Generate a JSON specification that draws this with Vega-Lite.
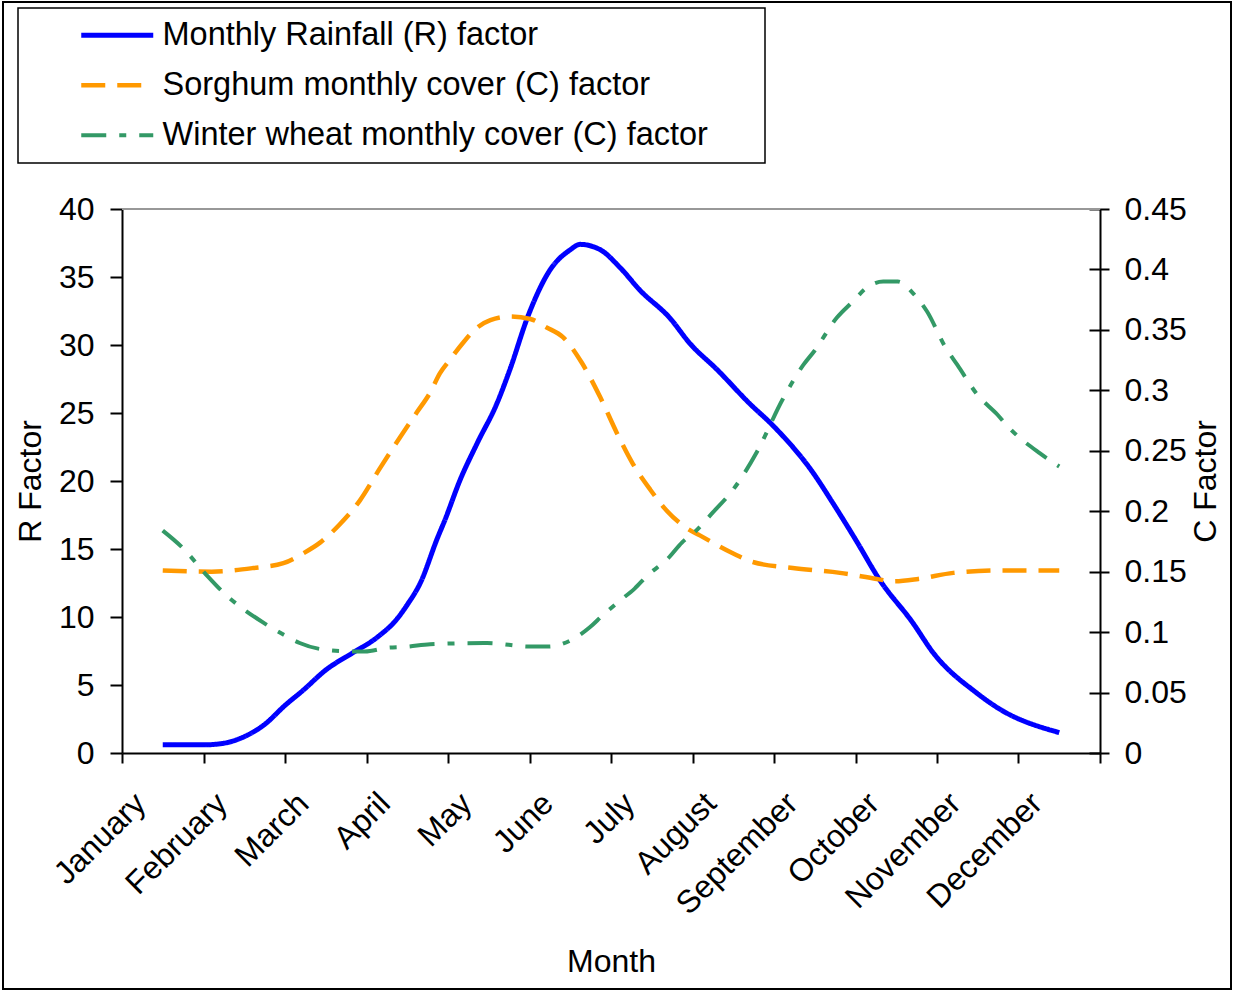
{
  "$schema": "https://vega.github.io/schema/vega-lite/v6.json",
  "width": 1228,
  "height": 987,
  "autosize": {"type": "none"},
  "padding": {"left": 3, "top": 2, "right": 2, "bottom": 2},
  "background": "white",
  "config": {
    "font": "Liberation Sans",
    "view": {"stroke": "black", "strokeWidth": 2},
    "axis": {
      "labelFont": "Liberation Sans",
      "titleFont": "Liberation Sans",
      "labelFontSize": 32,
      "titleFontSize": 32,
      "titleFontWeight": "normal",
      "labelColor": "black",
      "titleColor": "black",
      "domainColor": "black",
      "tickColor": "black",
      "domainWidth": 2,
      "tickWidth": 2,
      "grid": false
    },
    "legend": {
      "labelFont": "Liberation Sans",
      "labelFontSize": 32.5,
      "labelColor": "black",
      "strokeWidth": 1.5
    }
  },
  "data": {
    "values": [
      {"series": "Monthly Rainfall (R) factor", "m": 1, "v": 0.6},
      {"series": "Monthly Rainfall (R) factor", "m": 1.5, "v": 0.6},
      {"series": "Monthly Rainfall (R) factor", "m": 1.73, "v": 0.7},
      {"series": "Monthly Rainfall (R) factor", "m": 2, "v": 1.2},
      {"series": "Monthly Rainfall (R) factor", "m": 2.25, "v": 2.1},
      {"series": "Monthly Rainfall (R) factor", "m": 2.5, "v": 3.5},
      {"series": "Monthly Rainfall (R) factor", "m": 2.72, "v": 4.6},
      {"series": "Monthly Rainfall (R) factor", "m": 3, "v": 6.1},
      {"series": "Monthly Rainfall (R) factor", "m": 3.34, "v": 7.4},
      {"series": "Monthly Rainfall (R) factor", "m": 3.63, "v": 8.5},
      {"series": "Monthly Rainfall (R) factor", "m": 3.88, "v": 9.9},
      {"series": "Monthly Rainfall (R) factor", "m": 4, "v": 10.9},
      {"series": "Monthly Rainfall (R) factor", "m": 4.16, "v": 12.5},
      {"series": "Monthly Rainfall (R) factor", "m": 4.37, "v": 15.8},
      {"series": "Monthly Rainfall (R) factor", "m": 4.46, "v": 17.1},
      {"series": "Monthly Rainfall (R) factor", "m": 4.65, "v": 20.1},
      {"series": "Monthly Rainfall (R) factor", "m": 4.86, "v": 22.8},
      {"series": "Monthly Rainfall (R) factor", "m": 5.1, "v": 25.7},
      {"series": "Monthly Rainfall (R) factor", "m": 5.26, "v": 28.2},
      {"series": "Monthly Rainfall (R) factor", "m": 5.48, "v": 32.1},
      {"series": "Monthly Rainfall (R) factor", "m": 5.75, "v": 35.5},
      {"series": "Monthly Rainfall (R) factor", "m": 6, "v": 37.0},
      {"series": "Monthly Rainfall (R) factor", "m": 6.12, "v": 37.4},
      {"series": "Monthly Rainfall (R) factor", "m": 6.37, "v": 37.0},
      {"series": "Monthly Rainfall (R) factor", "m": 6.61, "v": 35.7},
      {"series": "Monthly Rainfall (R) factor", "m": 6.86, "v": 34.0},
      {"series": "Monthly Rainfall (R) factor", "m": 7.22, "v": 32.0},
      {"series": "Monthly Rainfall (R) factor", "m": 7.47, "v": 30.1},
      {"series": "Monthly Rainfall (R) factor", "m": 7.8, "v": 28.2},
      {"series": "Monthly Rainfall (R) factor", "m": 8.2, "v": 25.7},
      {"series": "Monthly Rainfall (R) factor", "m": 8.5, "v": 24.0},
      {"series": "Monthly Rainfall (R) factor", "m": 8.98, "v": 20.6},
      {"series": "Monthly Rainfall (R) factor", "m": 9.22, "v": 18.4},
      {"series": "Monthly Rainfall (R) factor", "m": 9.49, "v": 15.8},
      {"series": "Monthly Rainfall (R) factor", "m": 9.8, "v": 12.7},
      {"series": "Monthly Rainfall (R) factor", "m": 10.2, "v": 9.6},
      {"series": "Monthly Rainfall (R) factor", "m": 10.45, "v": 7.4},
      {"series": "Monthly Rainfall (R) factor", "m": 10.99, "v": 4.4},
      {"series": "Monthly Rainfall (R) factor", "m": 11.25, "v": 3.3},
      {"series": "Monthly Rainfall (R) factor", "m": 12, "v": 1.5},

      {"series": "Sorghum monthly cover (C) factor", "m": 1, "v": 0.151},
      {"series": "Sorghum monthly cover (C) factor", "m": 1.6, "v": 0.150},
      {"series": "Sorghum monthly cover (C) factor", "m": 2.11, "v": 0.153},
      {"series": "Sorghum monthly cover (C) factor", "m": 2.48, "v": 0.157},
      {"series": "Sorghum monthly cover (C) factor", "m": 2.72, "v": 0.165},
      {"series": "Sorghum monthly cover (C) factor", "m": 2.93, "v": 0.174},
      {"series": "Sorghum monthly cover (C) factor", "m": 3.17, "v": 0.189},
      {"series": "Sorghum monthly cover (C) factor", "m": 3.42, "v": 0.209},
      {"series": "Sorghum monthly cover (C) factor", "m": 3.66, "v": 0.235},
      {"series": "Sorghum monthly cover (C) factor", "m": 3.91, "v": 0.261},
      {"series": "Sorghum monthly cover (C) factor", "m": 4.12, "v": 0.282},
      {"series": "Sorghum monthly cover (C) factor", "m": 4.28, "v": 0.298},
      {"series": "Sorghum monthly cover (C) factor", "m": 4.4, "v": 0.314},
      {"series": "Sorghum monthly cover (C) factor", "m": 4.52, "v": 0.325},
      {"series": "Sorghum monthly cover (C) factor", "m": 4.68, "v": 0.339},
      {"series": "Sorghum monthly cover (C) factor", "m": 4.86, "v": 0.352},
      {"series": "Sorghum monthly cover (C) factor", "m": 5.02, "v": 0.358},
      {"series": "Sorghum monthly cover (C) factor", "m": 5.26, "v": 0.361},
      {"series": "Sorghum monthly cover (C) factor", "m": 5.51, "v": 0.359},
      {"series": "Sorghum monthly cover (C) factor", "m": 5.71, "v": 0.352},
      {"series": "Sorghum monthly cover (C) factor", "m": 5.91, "v": 0.344},
      {"series": "Sorghum monthly cover (C) factor", "m": 6.14, "v": 0.323},
      {"series": "Sorghum monthly cover (C) factor", "m": 6.37, "v": 0.294},
      {"series": "Sorghum monthly cover (C) factor", "m": 6.57, "v": 0.265},
      {"series": "Sorghum monthly cover (C) factor", "m": 6.77, "v": 0.239},
      {"series": "Sorghum monthly cover (C) factor", "m": 6.98, "v": 0.218},
      {"series": "Sorghum monthly cover (C) factor", "m": 7.19, "v": 0.200},
      {"series": "Sorghum monthly cover (C) factor", "m": 7.43, "v": 0.186},
      {"series": "Sorghum monthly cover (C) factor", "m": 7.59, "v": 0.180},
      {"series": "Sorghum monthly cover (C) factor", "m": 8, "v": 0.165},
      {"series": "Sorghum monthly cover (C) factor", "m": 8.24, "v": 0.158},
      {"series": "Sorghum monthly cover (C) factor", "m": 8.73, "v": 0.153},
      {"series": "Sorghum monthly cover (C) factor", "m": 9.31, "v": 0.149},
      {"series": "Sorghum monthly cover (C) factor", "m": 9.76, "v": 0.144},
      {"series": "Sorghum monthly cover (C) factor", "m": 9.96, "v": 0.142},
      {"series": "Sorghum monthly cover (C) factor", "m": 10.27, "v": 0.144},
      {"series": "Sorghum monthly cover (C) factor", "m": 10.7, "v": 0.149},
      {"series": "Sorghum monthly cover (C) factor", "m": 11.27, "v": 0.151},
      {"series": "Sorghum monthly cover (C) factor", "m": 12, "v": 0.151},

      {"series": "Winter wheat monthly cover (C) factor", "m": 1, "v": 0.184},
      {"series": "Winter wheat monthly cover (C) factor", "m": 1.24, "v": 0.170},
      {"series": "Winter wheat monthly cover (C) factor", "m": 1.54, "v": 0.147},
      {"series": "Winter wheat monthly cover (C) factor", "m": 1.74, "v": 0.133},
      {"series": "Winter wheat monthly cover (C) factor", "m": 2.23, "v": 0.108},
      {"series": "Winter wheat monthly cover (C) factor", "m": 2.48, "v": 0.098},
      {"series": "Winter wheat monthly cover (C) factor", "m": 2.68, "v": 0.091},
      {"series": "Winter wheat monthly cover (C) factor", "m": 2.93, "v": 0.086},
      {"series": "Winter wheat monthly cover (C) factor", "m": 3.3, "v": 0.084},
      {"series": "Winter wheat monthly cover (C) factor", "m": 3.48, "v": 0.084},
      {"series": "Winter wheat monthly cover (C) factor", "m": 3.75, "v": 0.087},
      {"series": "Winter wheat monthly cover (C) factor", "m": 4, "v": 0.088},
      {"series": "Winter wheat monthly cover (C) factor", "m": 4.28, "v": 0.090},
      {"series": "Winter wheat monthly cover (C) factor", "m": 4.98, "v": 0.091},
      {"series": "Winter wheat monthly cover (C) factor", "m": 5.51, "v": 0.088},
      {"series": "Winter wheat monthly cover (C) factor", "m": 5.73, "v": 0.088},
      {"series": "Winter wheat monthly cover (C) factor", "m": 6, "v": 0.093},
      {"series": "Winter wheat monthly cover (C) factor", "m": 6.24, "v": 0.104},
      {"series": "Winter wheat monthly cover (C) factor", "m": 6.4, "v": 0.114},
      {"series": "Winter wheat monthly cover (C) factor", "m": 6.59, "v": 0.125},
      {"series": "Winter wheat monthly cover (C) factor", "m": 6.79, "v": 0.136},
      {"series": "Winter wheat monthly cover (C) factor", "m": 6.95, "v": 0.147},
      {"series": "Winter wheat monthly cover (C) factor", "m": 7.2, "v": 0.161},
      {"series": "Winter wheat monthly cover (C) factor", "m": 7.37, "v": 0.174},
      {"series": "Winter wheat monthly cover (C) factor", "m": 7.53, "v": 0.183},
      {"series": "Winter wheat monthly cover (C) factor", "m": 7.75, "v": 0.199},
      {"series": "Winter wheat monthly cover (C) factor", "m": 8, "v": 0.218},
      {"series": "Winter wheat monthly cover (C) factor", "m": 8.29, "v": 0.249},
      {"series": "Winter wheat monthly cover (C) factor", "m": 8.61, "v": 0.293},
      {"series": "Winter wheat monthly cover (C) factor", "m": 8.86, "v": 0.321},
      {"series": "Winter wheat monthly cover (C) factor", "m": 9, "v": 0.333},
      {"series": "Winter wheat monthly cover (C) factor", "m": 9.27, "v": 0.360},
      {"series": "Winter wheat monthly cover (C) factor", "m": 9.46, "v": 0.373},
      {"series": "Winter wheat monthly cover (C) factor", "m": 9.64, "v": 0.385},
      {"series": "Winter wheat monthly cover (C) factor", "m": 9.84, "v": 0.390},
      {"series": "Winter wheat monthly cover (C) factor", "m": 10.02, "v": 0.390},
      {"series": "Winter wheat monthly cover (C) factor", "m": 10.21, "v": 0.380},
      {"series": "Winter wheat monthly cover (C) factor", "m": 10.38, "v": 0.365},
      {"series": "Winter wheat monthly cover (C) factor", "m": 10.6, "v": 0.336},
      {"series": "Winter wheat monthly cover (C) factor", "m": 10.75, "v": 0.321},
      {"series": "Winter wheat monthly cover (C) factor", "m": 11, "v": 0.296},
      {"series": "Winter wheat monthly cover (C) factor", "m": 11.24, "v": 0.280},
      {"series": "Winter wheat monthly cover (C) factor", "m": 11.37, "v": 0.270},
      {"series": "Winter wheat monthly cover (C) factor", "m": 11.76, "v": 0.248},
      {"series": "Winter wheat monthly cover (C) factor", "m": 12, "v": 0.237}
    ]
  },
  "layer": [
    {
      "description": "Grey frame line along the top of the plot area",
      "mark": {"type": "rule", "color": "#999999", "strokeWidth": 1.5},
      "encoding": {
        "x": {"datum": 0.5, "type": "quantitative", "scale": {"domain": [0.5, 12.5], "range": [119, 1097], "nice": false, "zero": false}},
        "x2": {"datum": 12.5},
        "y": {"datum": 40, "type": "quantitative", "scale": {"domain": [0, 40], "range": [751, 207], "nice": false}, "axis": null}
      }
    },
    {
      "transform": [{"filter": "datum.series === 'Monthly Rainfall (R) factor'"}],
      "mark": {"type": "line", "interpolate": "monotone", "strokeCap": "butt"},
      "encoding": {
        "x": {
          "field": "m", "type": "quantitative",
          "scale": {"domain": [0.5, 12.5], "range": [119, 1097], "nice": false, "zero": false},
          "axis": {
            "orient": "bottom", "offset": -236,
            "values": [0.5, 1.5, 2.5, 3.5, 4.5, 5.5, 6.5, 7.5, 8.5, 9.5, 10.5, 11.5, 12.5],
            "labelExpr": "['January','February','March','April','May','June','July','August','September','October','November','December',''][round(datum.value - 0.5)]",
            "labelAngle": -45, "labelAlign": "right", "labelBaseline": "middle",
            "labelOffset": 18, "labelPadding": 35, "labelOverlap": false, "labelBound": false, "labelFlush": false,
            "tickSize": 10, "title": "Month", "titlePadding": 27
          }
        },
        "y": {
          "field": "v", "type": "quantitative",
          "scale": {"domain": [0, 40], "range": [751, 207], "nice": false},
          "axis": {
            "orient": "left", "offset": -119, "values": [0, 5, 10, 15, 20, 25, 30, 35, 40],
            "tickSize": 12, "labelPadding": 16, "title": "R Factor", "titlePadding": 11
          }
        },
        "color": {
          "field": "series", "type": "nominal",
          "scale": {
            "domain": ["Monthly Rainfall (R) factor", "Sorghum monthly cover (C) factor", "Winter wheat monthly cover (C) factor"],
            "range": ["#0000ff", "#ff9900", "#339966"]
          },
          "legend": {
            "title": null, "orient": "none", "legendX": 15, "legendY": 6,
            "symbolType": "M-4,0L4,0", "symbolSize": 324, "symbolOffset": 72,
            "labelOffset": 29, "rowPadding": 17, "padding": 11,
            "labelExpr": "datum.label + '\u00a0\u00a0\u00a0\u00a0\u00a0\u200b'",
            "strokeColor": "black", "fillColor": "white", "labelLimit": 1000
          }
        },
        "strokeDash": {
          "field": "series", "type": "nominal",
          "scale": {
            "domain": ["Monthly Rainfall (R) factor", "Sorghum monthly cover (C) factor", "Winter wheat monthly cover (C) factor"],
            "range": [[1, 0], [24, 12], [25, 13, 7, 13]]
          }
        },
        "strokeWidth": {
          "field": "series", "type": "nominal",
          "scale": {
            "domain": ["Monthly Rainfall (R) factor", "Sorghum monthly cover (C) factor", "Winter wheat monthly cover (C) factor"],
            "range": [5, 4, 3.5]
          }
        }
      }
    },
    {
      "transform": [{"filter": "datum.series === 'Sorghum monthly cover (C) factor'"}],
      "mark": {"type": "line", "interpolate": "monotone", "strokeCap": "butt"},
      "encoding": {
        "x": {"field": "m", "type": "quantitative"},
        "y": {
          "field": "v", "type": "quantitative",
          "scale": {"domain": [0, 0.45], "range": [751, 207], "nice": false},
          "axis": {
            "orient": "right", "offset": -131,
            "values": [0, 0.05, 0.1, 0.15, 0.2, 0.25, 0.3, 0.35, 0.4, 0.45],
            "labelExpr": "format(datum.value, '.2~f')",
            "tickSize": 9, "labelPadding": 15, "title": "C Factor", "titleAngle": -90, "titleBaseline": "top", "titlePadding": 4
          }
        },
        "color": {"field": "series", "type": "nominal"},
        "strokeDash": {"field": "series", "type": "nominal"},
        "strokeWidth": {"field": "series", "type": "nominal"}
      }
    },
    {
      "transform": [{"filter": "datum.series === 'Winter wheat monthly cover (C) factor'"}],
      "mark": {"type": "line", "interpolate": "monotone", "strokeCap": "butt"},
      "encoding": {
        "x": {"field": "m", "type": "quantitative"},
        "y": {
          "field": "v", "type": "quantitative",
          "scale": {"domain": [0, 0.45], "range": [751, 207], "nice": false},
          "axis": {
            "orient": "right", "offset": -131,
            "values": [0, 0.05, 0.1, 0.15, 0.2, 0.25, 0.3, 0.35, 0.4, 0.45],
            "tickSize": -11, "labels": false, "domain": false, "title": null
          }
        },
        "color": {"field": "series", "type": "nominal"},
        "strokeDash": {"field": "series", "type": "nominal"},
        "strokeWidth": {"field": "series", "type": "nominal"}
      }
    }
  ],
  "resolve": {"scale": {"y": "independent"}, "axis": {"y": "independent"}}
}
